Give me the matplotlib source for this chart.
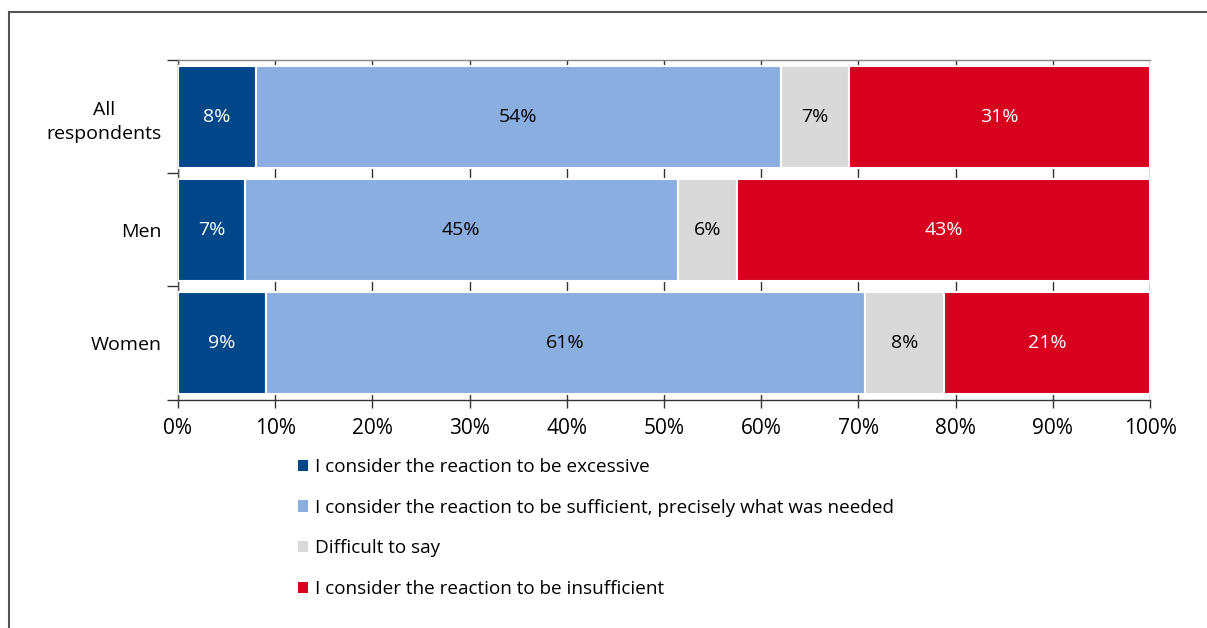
import matplotlib
matplotlib.use("Agg")
import matplotlib.pyplot as plt
from matplotlib.patches import Patch, Rectangle
import numpy as np

plt.rcParams['font.family'] = ['Open Sans', 'DejaVu Sans']

categories = ["All\nrespondents", "Men", "Women"]
series_names = [
    "I consider the reaction to be excessive",
    "I consider the reaction to be sufficient, precisely what was needed",
    "Difficult to say",
    "I consider the reaction to be insufficient",
]
excessive = [8.0, 6.9, 9.05]
sufficient = [54.0, 44.5, 61.65]
difficult = [7.0, 6.1, 8.1]
insufficient = [31.0, 42.5, 21.2]
labels_excessive = ["8%", "7%", "9%"]
labels_sufficient = ["54%", "45%", "61%"]
labels_difficult = ["7%", "6%", "8%"]
labels_insufficient = ["31%", "43%", "21%"]
xtick_values = [0, 10, 20, 30, 40, 50, 60, 70, 80, 90, 100]

colors = ["#00478A", "#8AAEE0", "#D9D9D9", "#D7001E"]
text_colors = ["white", "black", "black", "white"]

W, H = 1207, 628
fig = plt.figure(figsize=(W / 100, H / 100), dpi=100)
ax = fig.add_axes([178 / W, 1 - 399.5 / H, (1150 - 178) / W, (399.5 - 60) / H])

# frame around the figure area
fig.add_artist(Rectangle((8.5 / W, -0.05), 1.1, 1 - 12 / H + 0.05, transform=fig.transFigure,
                         fill=False, edgecolor="#555555", linewidth=1.5, zorder=0))

y = np.arange(len(categories))
all_series = [excessive, sufficient, difficult, insufficient]
all_labels = [labels_excessive, labels_sufficient, labels_difficult, labels_insufficient]
left = np.zeros(len(categories))
for vals, labs, col, tc, name in zip(all_series, all_labels, colors, text_colors, series_names):
    vals = np.array(vals)
    ax.barh(y, vals, left=left, height=0.9, color=col, edgecolor="white",
            linewidth=1.5, zorder=3, label=name)
    for yi, l, v, lab in zip(y, left, vals, labs):
        ax.text(l + v / 2, yi, lab, ha="center", va="center", color=tc, fontsize=14, zorder=4)
    left = left + vals

ax.set_xlim(0, 100)
ax.set_ylim(2.5, -0.5)
ax.set_xticks(xtick_values)
ax.set_xticklabels([f"{v}%" for v in xtick_values], fontsize=15)
ax.set_yticks(y)
ax.set_yticklabels(categories, fontsize=14, ha="right", multialignment="center", linespacing=1.45)
ax.tick_params(axis="y", which="major", length=0, pad=12)
ax.set_yticks([-0.5, 0.5, 1.5, 2.5], minor=True)
ax.tick_params(axis="y", which="minor", length=8, width=1, color="#333333")
ax.tick_params(axis="x", length=6, width=1, color="#333333", pad=7)
ax.xaxis.grid(True, color="#333333", linewidth=1, zorder=0)
ax.set_axisbelow(True)
ax.spines["right"].set_visible(False)
ax.spines["top"].set_color("#888888")
ax.spines["left"].set_color("#555555")
ax.spines["bottom"].set_color("#333333")
for s in ["top", "left", "bottom"]:
    ax.spines[s].set_linewidth(1)

handles = [Patch(facecolor=c, edgecolor="none") for c in colors]
fig.legend(handles, series_names, loc="upper left", bbox_to_anchor=(298 / W, 1 - 458 / H),
           frameon=False, fontsize=13.6, handlelength=0.55, handleheight=0.55,
           handletextpad=0.35, labelspacing=1.2, borderpad=0, borderaxespad=0)

fig.savefig("out.png", dpi=100)
